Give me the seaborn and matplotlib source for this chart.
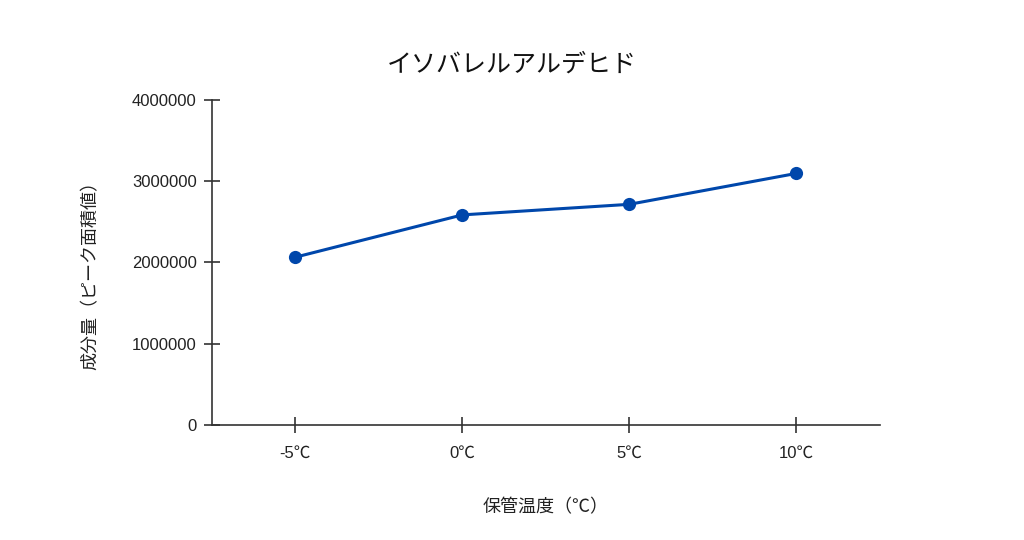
import matplotlib
matplotlib.use("Agg")
import matplotlib.pyplot as plt
import seaborn as sns
import pandas as pd

# 保管温度ごとのイソバレルアルデヒドのピーク面積値
temps = ["-5℃", "0℃", "5℃", "10℃"]
peak_area = [2065000, 2585000, 2715000, 3095000]
y_ticks = [0, 1000000, 2000000, 3000000, 4000000]

sns.set_style("white")
plt.rcParams['font.family'] = ['Liberation Sans', 'Noto Sans CJK JP', 'DejaVu Sans']

df = pd.DataFrame({"pos": range(len(temps)), "area": peak_area})

fig = plt.figure(figsize=(10.24, 5.4), dpi=100)
ax = fig.add_axes([0.207, 0.213, 0.652, 0.602])

sns.lineplot(data=df, x="pos", y="area", ax=ax, color="#0047AB",
             linewidth=2.2, marker="o", markersize=9.5, markeredgewidth=0)

ax.set_xlim(-0.5, 3.5)
ax.set_ylim(0, 4000000)
ax.set_xticks(range(len(temps)))
ax.set_xticklabels(temps)
ax.set_yticks(y_ticks)
ax.set_yticklabels([str(v) for v in y_ticks])

for side in ["top", "right"]:
    ax.spines[side].set_visible(False)
for side in ["left", "bottom"]:
    ax.spines[side].set_color("#333333")
    ax.spines[side].set_linewidth(1.2)

ax.tick_params(axis="both", direction="inout", length=12, width=1.2,
               bottom=True, left=True,
               color="#333333", labelsize=12, labelcolor="#222222")
ax.tick_params(axis="x", pad=9)
ax.tick_params(axis="y", pad=5)

cjk = ['Noto Sans CJK JP', 'DejaVu Sans']
ax.set_xlabel("保管温度（℃）", fontsize=13, labelpad=27, color="#222222", family=cjk)
ax.set_ylabel("成分量（ピーク面積値）", fontsize=13, color="#222222", family=cjk)
ax.yaxis.set_label_coords(-0.169, 0.475)
fig.text(0.5, 1 - 65 / 540, "イソバレルアルデヒド", fontsize=18, ha="center", va="center",
         color="#111111", family=cjk)

fig.savefig("out.png", dpi=100)
